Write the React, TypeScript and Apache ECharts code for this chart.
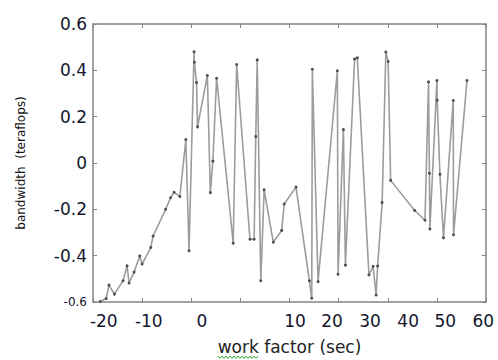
import React, { useEffect, useRef } from "react";
import * as echarts from "echarts";

// x in axis units (ticks -20..60), y = bandwidth
const xValues = [
  -18.53, -17.31, -16.76, -15.64, -13.88, -13.07, -12.66, -11.64, -10.48, -10.01,
  -8.24, -7.77, -5.22, -4.2, -3.49, -2.32, -1.1, -0.45, 0.57, 0.63,
  1.08, 1.28, 3.28, 3.89, 4.4, 5.16, 8.54, 9.24, 11.95, 12.8,
  13.13, 13.43, 14.15, 14.84, 16.7, 18.41, 18.92, 21.32, 24.04, 24.53,
  24.65, 25.81, 29.74, 29.89, 30.97, 31.38, 33.25, 33.8, 36.17, 37.02,
  37.63, 37.94, 38.86, 39.61, 40.08, 40.59, 45.48, 47.58, 48.3, 48.48,
  48.58, 50.01, 50.07, 50.62, 51.35, 53.33, 53.39, 56.13,
];
const yValues = [
  -0.598, -0.585, -0.527, -0.566, -0.508, -0.444, -0.518, -0.471, -0.401, -0.436,
  -0.365, -0.315, -0.2, -0.15, -0.126, -0.145, 0.101, -0.379, 0.48, 0.435,
  0.347, 0.156, 0.378, -0.128, 0.008, 0.366, -0.346, 0.425, -0.329, -0.329,
  0.114, 0.445, -0.508, -0.116, -0.342, -0.291, -0.177, -0.104, -0.508, -0.584,
  0.405, -0.512, 0.398, -0.48, 0.144, -0.441, 0.449, 0.454, -0.483, -0.446,
  -0.57, -0.445, -0.171, 0.479, 0.438, -0.075, -0.205, -0.247, 0.35, -0.044,
  -0.285, 0.356, 0.271, -0.049, -0.323, 0.27, -0.31, 0.356,
];

const xTickValues = [-20, -10, 0, 10, 20, 30, 40, 50, 60];
const xTickLabels = ["-20", "-10", "0", "10", "20", "30", "40", "50", "60"];
const xLabelAt = [-17.8, -8.64, 2.16, 21.12, 28.66, 36.4, 44.16, 51.7, 59.45];

const xName = "work factor (sec)";
const yName = "bandwidth  (teraflops)";

const FONT = "DejaVu Sans, Verdana, sans-serif";

export default function App() {
  const ref = useRef<HTMLDivElement>(null);
  useEffect(() => {
    if (!ref.current) return;
    const chart = echarts.init(ref.current, null, { renderer: "svg" });
    const frame = { show: true, onZero: false, lineStyle: { color: "#858585", width: 1.5 } };
    const tick = { show: true, inside: true, length: 4, lineStyle: { color: "#858585", width: 1 } };
    const labelFont = { fontFamily: FONT, fontSize: 17, color: "#15152e" };
    chart.setOption({
      animation: false,
      backgroundColor: "#ffffff",
      grid: { left: 93, right: 12, top: 24, bottom: 57, containLabel: false },
      xAxis: [
        {
          type: "value",
          min: -20,
          max: 60,
          interval: 10,
          position: "bottom",
          axisLine: frame,
          axisTick: { ...tick, customValues: xTickValues },
          splitLine: { show: false },
          axisLabel: {
            ...labelFont,
            margin: 10,
            customValues: xLabelAt,
            formatter: (v: number) => {
              let best = 0;
              for (let i = 1; i < xLabelAt.length; i++) {
                if (Math.abs(xLabelAt[i] - v) < Math.abs(xLabelAt[best] - v)) best = i;
              }
              return xTickLabels[best];
            },
          },
          name: xName,
          nameLocation: "middle",
          nameGap: 36,
          nameTextStyle: { fontFamily: FONT, fontSize: 17, color: "#222" },
        },
        {
          type: "value",
          min: -20,
          max: 60,
          interval: 10,
          position: "top",
          axisLine: frame,
          axisTick: tick,
          axisLabel: { show: false },
          splitLine: { show: false },
        },
      ],
      yAxis: [
        {
          type: "value",
          min: -0.6,
          max: 0.6,
          interval: 0.2,
          position: "left",
          axisLine: frame,
          axisTick: tick,
          splitLine: { show: false },
          axisLabel: {
            ...labelFont,
            margin: 6,
            formatter: (v: number) => {
              const r = Math.round(v * 10) / 10;
              if (r === -0.6) return "{s|-0.6}";
              return r === 0 ? "0" : r.toFixed(1);
            },
            rich: {
              s: { fontFamily: FONT, fontSize: 12, color: "#15152e" },
            },
          },
          name: yName,
          nameLocation: "middle",
          nameGap: 66,
          nameRotate: 90,
          nameTextStyle: { fontFamily: FONT, fontSize: 12, color: "#111" },
        },
        {
          type: "value",
          min: -0.6,
          max: 0.6,
          interval: 0.2,
          position: "right",
          axisLine: frame,
          axisTick: tick,
          axisLabel: { show: false },
          splitLine: { show: false },
        },
      ],
      graphic: [
        {
          type: "polyline",
          shape: {
            points: [
              [218, 356], [220, 358.5], [222, 356], [224, 358.5], [226, 356], [228, 358.5],
              [230, 356], [232, 358.5], [234, 356], [236, 358.5], [238, 356], [240, 358.5],
              [242, 356], [244, 358.5], [246, 356], [248, 358.5], [250, 356], [252, 358.5],
              [254, 356], [256, 358.5], [258, 356],
            ],
          },
          style: { stroke: "#3aa63a", lineWidth: 1, fill: "none" },
        },
      ],
      series: [
        {
          type: "line",
          data: xValues.map((x, i) => [x, yValues[i]]),
          symbol: "circle",
          symbolSize: 3,
          showSymbol: true,
          lineStyle: { color: "#9c9c9c", width: 1.6 },
          itemStyle: { color: "#505050" },
          z: 3,
        },
      ],
    });
    return () => chart.dispose();
  }, []);
  return (
    <div
      ref={ref}
      style={{ position: "fixed", left: 0, top: 0, width: 498, height: 360, background: "#fff" }}
    />
  );
}
